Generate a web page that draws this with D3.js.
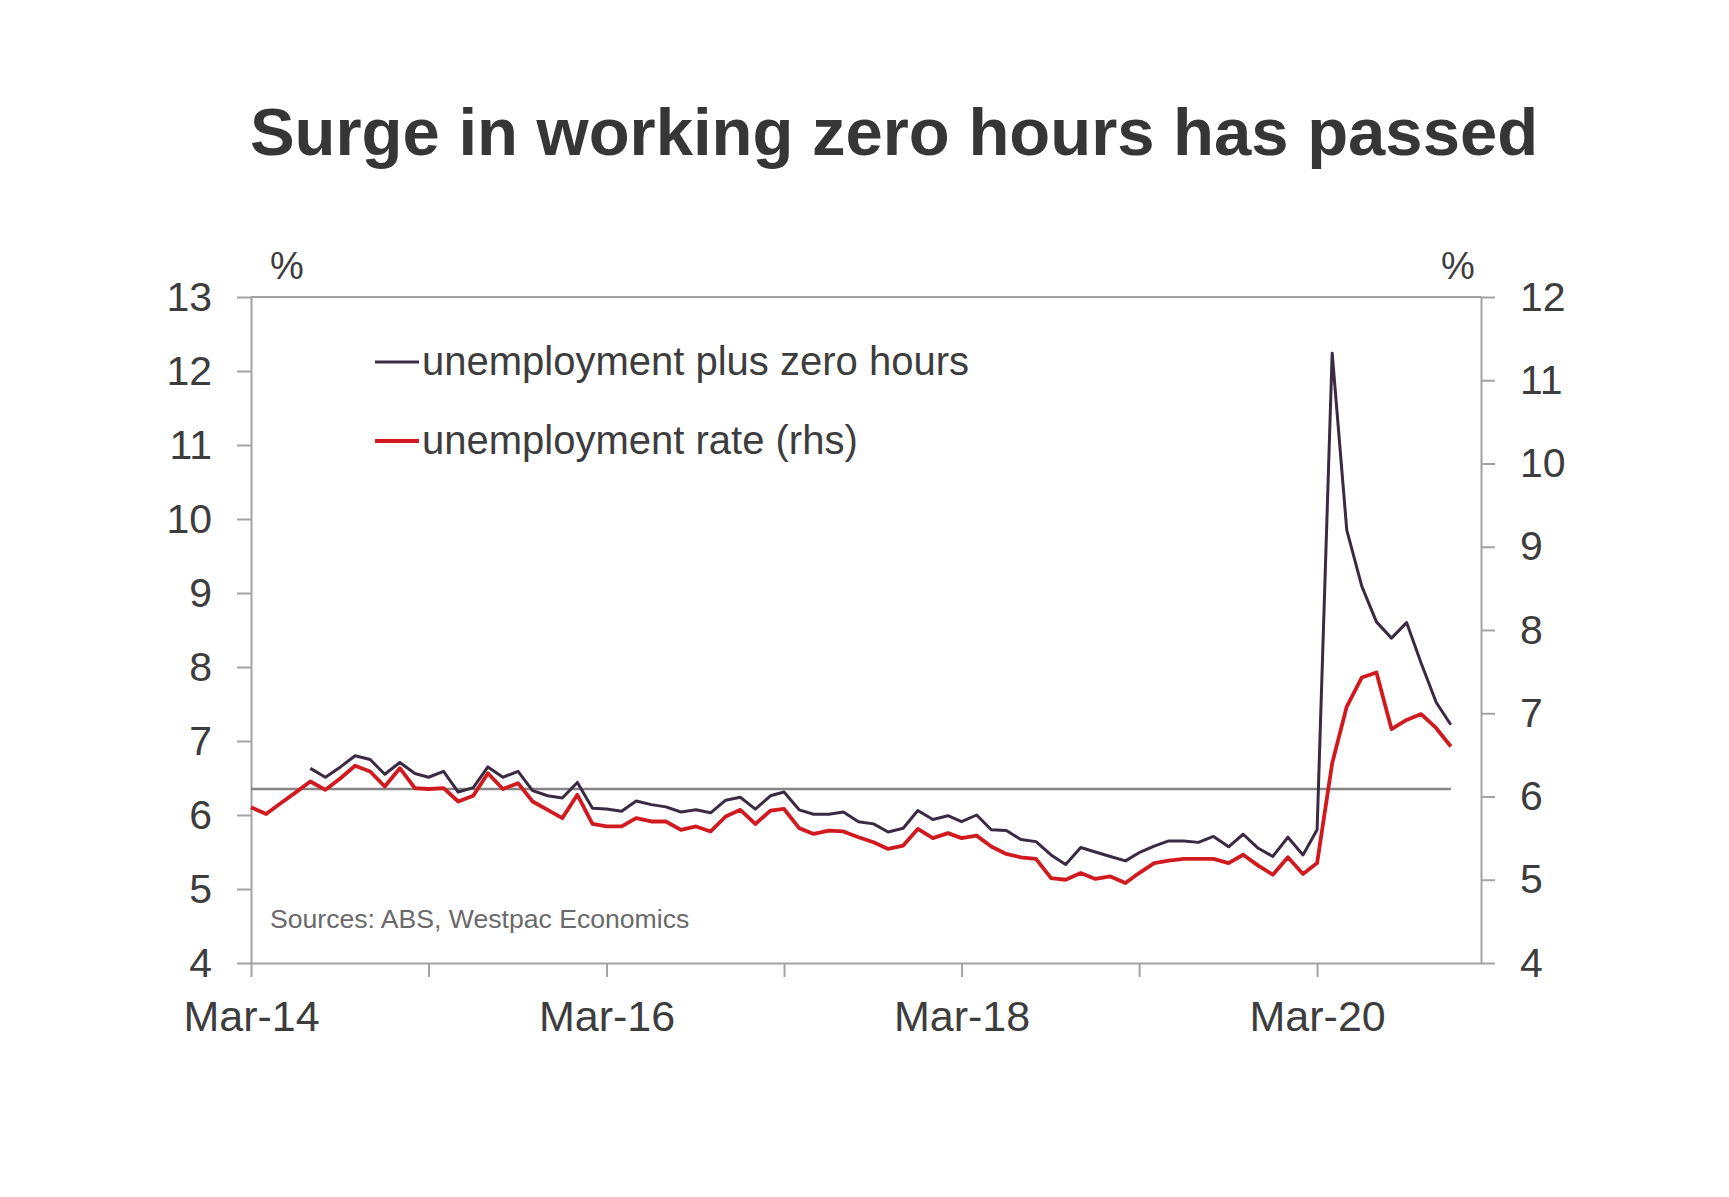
<!DOCTYPE html>
<html>
<head>
<meta charset="utf-8">
<script src="https://cdn.jsdelivr.net/npm/d3@7"></script>
<style>
  html, body { margin: 0; padding: 0; background: #ffffff; }
  svg { display: block; font-family: "Liberation Sans", Arial, Helvetica, sans-serif; }
</style>
</head>
<body>
<svg id="chart" width="1729" height="1197"></svg>
<script>
// ---------------- DATA ----------------
const chartTitle = "Surge in working zero hours has passed";
const sourceNote = "Sources: ABS, Westpac Economics";
const seriesNames = ["unemployment plus zero hours", "unemployment rate (rhs)"];

// monthly, March 2014 .. December 2020
const firstMonth = "2014-03-01";
const lastMonth = "2020-12-01";
const axisEndMonth = "2021-02-01";

// unemployment rate (rhs), Mar-14 .. Dec-20
const unemploymentRate = [
  5.87, 5.79, 5.92, 6.05, 6.18, 6.08, 6.22, 6.37, 6.30, 6.12, 6.34, 6.10,
  6.09, 6.10, 5.94, 6.01, 6.28, 6.09, 6.16, 5.94, 5.84, 5.74, 6.02, 5.67,
  5.64, 5.64, 5.74, 5.70, 5.70, 5.60, 5.64, 5.58, 5.76, 5.84, 5.67, 5.83,
  5.85, 5.62, 5.55, 5.59, 5.58, 5.51, 5.45, 5.37, 5.41, 5.61, 5.50, 5.56,
  5.50, 5.53, 5.40, 5.31, 5.27, 5.25, 5.02, 5.00, 5.08, 5.01, 5.04, 4.96,
  5.08, 5.20, 5.23, 5.25, 5.25, 5.25, 5.20, 5.30, 5.17, 5.06, 5.27, 5.07,
  5.20, 6.40, 7.08, 7.43, 7.49, 6.81, 6.92, 6.99, 6.82, 6.60
];

// unemployment plus zero hours (lhs), Jul-14 .. Dec-20
const plusZeroStart = "2014-07-01";
const unemploymentPlusZero = [
  6.63, 6.51, 6.65, 6.80, 6.75, 6.55, 6.71, 6.56,
  6.51, 6.59, 6.31, 6.37, 6.65, 6.51, 6.59, 6.33, 6.26, 6.23, 6.44, 6.09,
  6.08, 6.05, 6.19, 6.14, 6.11, 6.04, 6.07, 6.03, 6.20, 6.24, 6.08, 6.26,
  6.31, 6.07, 6.01, 6.01, 6.04, 5.91, 5.88, 5.77, 5.82, 6.06, 5.94, 5.99,
  5.91, 6.00, 5.80, 5.79, 5.67, 5.64, 5.46, 5.33, 5.56, 5.50, 5.44, 5.38,
  5.49, 5.58, 5.65, 5.65, 5.63, 5.71, 5.57, 5.74, 5.55, 5.44, 5.70, 5.46,
  5.80, 12.24, 9.85, 9.09, 8.61, 8.39, 8.60, 8.05, 7.52, 7.22
];

// long-run average of unemployment plus zero hours (lhs)
const averageLevel = 6.35;

const leftTicks = [4, 5, 6, 7, 8, 9, 10, 11, 12, 13];
const rightTicks = [4, 5, 6, 7, 8, 9, 10, 11, 12];
const xTickLabels = ["Mar-14", "", "Mar-16", "", "Mar-18", "", "Mar-20"];

// ---------------- LAYOUT ----------------
const svg = d3.select("#chart");
const plot = { left: 251, right: 1481, top: 297, bottom: 963 };
const colors = {
  purple: "#3a2a42",
  red: "#d11a1f",
  avg: "#858585",
  axis: "#a3a3a3",
  text: "#3d3d3d",
  source: "#6a6a6a"
};

const parse = d3.utcParse("%Y-%m-%d");
const rateDates = d3.utcMonth.range(parse(firstMonth), d3.utcMonth.offset(parse(lastMonth), 1));
const plusDates = d3.utcMonth.range(parse(plusZeroStart), d3.utcMonth.offset(parse(lastMonth), 1));
const tickDates = d3.utcMonth.range(parse(firstMonth), parse(axisEndMonth), 12);

const x = d3.scaleUtc()
  .domain([parse(firstMonth), parse(axisEndMonth)])
  .range([plot.left, plot.right]);
const yL = d3.scaleLinear().domain([4, 13]).range([plot.bottom, plot.top]);
const yR = d3.scaleLinear().domain([4, 12]).range([plot.bottom, plot.top]);

// title
svg.append("text")
  .attr("x", 894).attr("y", 155)
  .attr("text-anchor", "middle")
  .attr("font-size", 67).attr("font-weight", "bold")
  .attr("fill", "#363636")
  .text(chartTitle);

// frame top border
svg.append("line")
  .attr("x1", plot.left).attr("x2", plot.right)
  .attr("y1", plot.top).attr("y2", plot.top)
  .attr("stroke", colors.axis).attr("stroke-width", 2);

// axes
function styleAxis(g, size) {
  g.select(".domain").attr("stroke", colors.axis).attr("stroke-width", 2);
  g.selectAll(".tick line").attr("stroke", colors.axis).attr("stroke-width", 2);
  g.selectAll(".tick text").attr("fill", colors.text).attr("font-size", size)
    .attr("font-family", "'Liberation Sans', Arial, sans-serif");
}

const gL = svg.append("g").attr("transform", `translate(${plot.left},0)`)
  .call(d3.axisLeft(yL).tickValues(leftTicks).tickFormat(d3.format("d"))
    .tickSize(14).tickSizeOuter(0).tickPadding(25));
styleAxis(gL, 41);

const gR = svg.append("g").attr("transform", `translate(${plot.right},0)`)
  .call(d3.axisRight(yR).tickValues(rightTicks).tickFormat(d3.format("d"))
    .tickSize(14).tickSizeOuter(0).tickPadding(25));
styleAxis(gR, 41);

const gB = svg.append("g").attr("transform", `translate(0,${plot.bottom})`)
  .call(d3.axisBottom(x).tickValues(tickDates)
    .tickFormat((d, i) => xTickLabels[i] || "")
    .tickSize(14).tickSizeOuter(0).tickPadding(23));
styleAxis(gB, 43);

// % unit labels
svg.append("text").attr("x", 287).attr("y", 279).attr("text-anchor", "middle")
  .attr("font-size", 38).attr("fill", colors.text).text("%");
svg.append("text").attr("x", 1458).attr("y", 279).attr("text-anchor", "middle")
  .attr("font-size", 38).attr("fill", colors.text).text("%");

// average line
svg.append("line")
  .attr("x1", x(rateDates[0])).attr("x2", x(rateDates[rateDates.length - 1]))
  .attr("y1", yL(averageLevel)).attr("y2", yL(averageLevel))
  .attr("stroke", colors.avg).attr("stroke-width", 2.5);

// series lines
const lineR = d3.line().x((d, i) => x(rateDates[i])).y(d => yR(d));
const lineL = d3.line().x((d, i) => x(plusDates[i])).y(d => yL(d));

svg.append("path").datum(unemploymentRate)
  .attr("d", lineR).attr("fill", "none")
  .attr("stroke", colors.red).attr("stroke-width", 3.8)
  .attr("stroke-linejoin", "round");

svg.append("path").datum(unemploymentPlusZero)
  .attr("d", lineL).attr("fill", "none")
  .attr("stroke", colors.purple).attr("stroke-width", 3)
  .attr("stroke-linejoin", "round");

// legend
const legend = [
  { name: seriesNames[0], color: colors.purple, y: 362, w: 3 },
  { name: seriesNames[1], color: colors.red, y: 441, w: 3.8 }
];
legend.forEach(l => {
  svg.append("line").attr("x1", 375).attr("x2", 419)
    .attr("y1", l.y).attr("y2", l.y)
    .attr("stroke", l.color).attr("stroke-width", l.w);
  svg.append("text").attr("x", 422).attr("y", l.y + 13)
    .attr("font-size", 40).attr("fill", colors.text).text(l.name);
});

// source note
svg.append("text").attr("x", 270).attr("y", 928)
  .attr("font-size", 26.6).attr("fill", colors.source).text(sourceNote);
</script>
</body>
</html>
